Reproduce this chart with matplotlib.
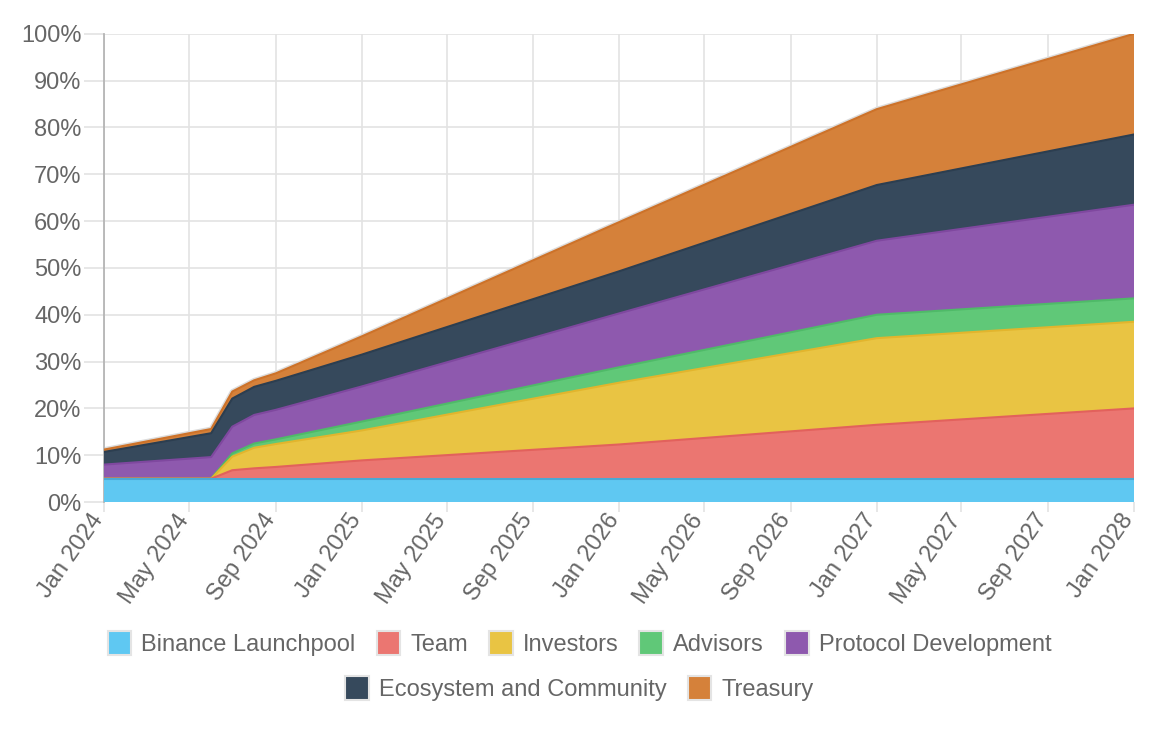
import matplotlib
matplotlib.use("Agg")
import matplotlib.pyplot as plt
import matplotlib.dates as mdates
import matplotlib.transforms as mtransforms
from matplotlib.patches import Patch
from matplotlib.ticker import FuncFormatter
import numpy as np
from datetime import datetime

plt.rcParams['font.family'] = ['Liberation Sans', 'DejaVu Sans']

# key dates (lines are straight between them)
dates = ["2024-01-01", "2024-06-01", "2024-07-01", "2024-08-01", "2024-09-01",
         "2025-01-01", "2026-01-01", "2027-01-01", "2028-01-01"]

# unlocked share of total supply, % (per category, not cumulative)
binance = [5.0, 5.0, 5.0, 5.0, 5.0, 5.0, 5.0, 5.0, 5.0]
team = [0.0, 0.0, 1.8, 2.2, 2.5, 3.9, 7.3, 11.5, 15.0]
investors = [0.0, 0.0, 2.9, 4.4, 4.9, 6.4, 13.2, 18.5, 18.5]
advisors = [0.0, 0.0, 0.7, 0.9, 1.0, 1.9, 3.3, 5.0, 5.0]
protocol = [3.0, 4.6, 5.7, 6.1, 6.3, 7.5, 11.5, 15.8, 20.0]
ecosystem = [2.7, 5.1, 6.0, 6.0, 6.2, 6.8, 9.0, 11.9, 15.0]
treasury = [0.5, 0.9, 1.5, 1.4, 1.6, 3.9, 10.5, 16.2, 21.5]

labels = ["Binance Launchpool", "Team", "Investors", "Advisors",
          "Protocol Development", "Ecosystem and Community", "Treasury"]
fills = ["#5fc8f2", "#eb7671", "#e9c443", "#60c878", "#8e59ae", "#36495c", "#d5813a"]
edges = ["#4aa9d4", "#e2615c", "#e2b52d", "#4fba68", "#7f489f", "#2c3e50", "#cd7229"]

x = [datetime.strptime(d, "%Y-%m-%d") for d in dates]
series = np.array([binance, team, investors, advisors, protocol, ecosystem, treasury])
tops = np.cumsum(series, axis=0)

fig = plt.figure(figsize=(11.68, 7.34), dpi=100)
ax = fig.add_axes([0.089, 0.316, 0.882, 0.638])

# faint halo above the top band
ax.plot(x, tops[-1], color="#dcdcdc", lw=3.5, zorder=2, solid_capstyle="butt")

bottom = np.zeros(len(x))
for i in range(len(labels)):
    ax.fill_between(x, bottom, tops[i], facecolor=fills[i], edgecolor="none", zorder=3)
    bottom = tops[i]
# border lines, lower ones on top so empty bands show the blue edge
for i in reversed(range(len(labels))):
    ax.plot(x, tops[i], color=edges[i], lw=1.5, zorder=4, solid_capstyle="butt")

ax.set_xlim(datetime(2024, 1, 1), datetime(2028, 1, 1))
ax.set_ylim(0, 100)
ax.set_yticks(np.arange(0, 101, 10))
ax.yaxis.set_major_formatter(FuncFormatter(lambda v, p: f"{int(v)}%"))
ax.xaxis.set_major_locator(mdates.MonthLocator(bymonth=[1, 5, 9]))
ax.xaxis.set_major_formatter(mdates.DateFormatter("%b %Y"))

ax.grid(True, color="#e3e3e3", lw=1.2, zorder=0)
ax.set_axisbelow(True)
for s in ["top", "right", "bottom"]:
    ax.spines[s].set_visible(False)
ax.spines["left"].set_color("#b5b5b5")
ax.spines["left"].set_linewidth(1.3)
ax.tick_params(axis="both", width=1.2, color="#e3e3e3",
               labelcolor="#666666", labelsize=17)
ax.tick_params(axis="y", length=14.5, pad=1.5)
ax.tick_params(axis="x", length=7.5, pad=2)
shift = mtransforms.ScaledTranslation(-5 / 100, -1 / 100, fig.dpi_scale_trans)
for lab in ax.get_xticklabels():
    lab.set_rotation(55)
    lab.set_ha("right")
    lab.set_va("center")
    lab.set_rotation_mode("anchor")
    lab.set_transform(lab.get_transform() + shift)

handles = [Patch(facecolor=fills[i], edgecolor="#e4e4e4", lw=1.5) for i in range(len(labels))]
leg_kw = dict(frameon=False, fontsize=17, labelcolor="#666666", handlelength=1.0,
              handleheight=1.15, handletextpad=0.42, columnspacing=0.9)
leg1 = fig.legend(handles[:5], labels[:5], loc="center", ncol=5,
                  bbox_to_anchor=(0.496, 0.123), **leg_kw)
leg2 = fig.legend(handles[5:], labels[5:], loc="center", ncol=2,
                  bbox_to_anchor=(0.496, 0.062), **leg_kw)

fig.savefig("out.png", dpi=100)
